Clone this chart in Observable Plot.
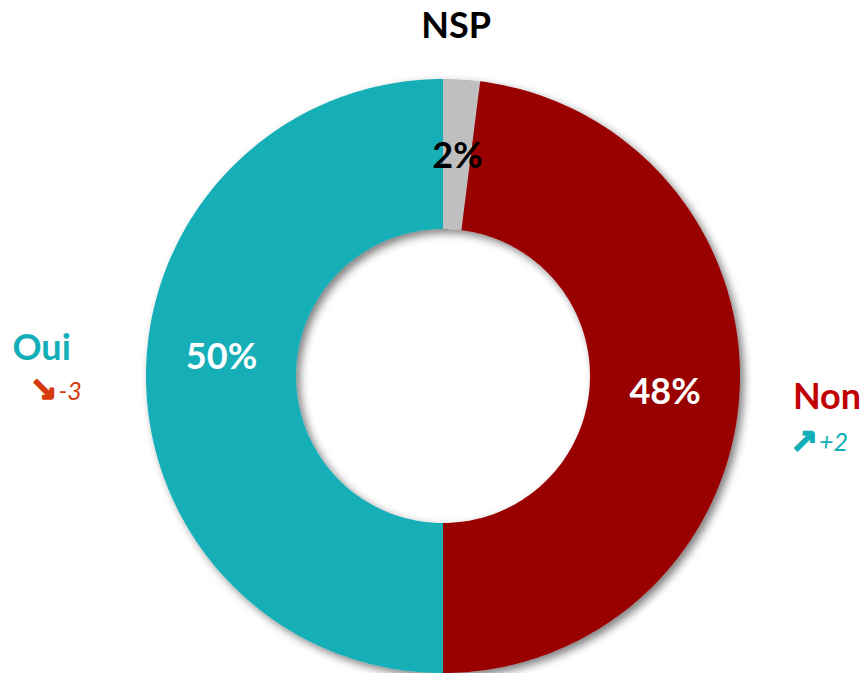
<!DOCTYPE html>
<html>
<head>
<meta charset="utf-8">
<script src="https://cdn.jsdelivr.net/npm/d3@7"></script>
<script src="https://cdn.jsdelivr.net/npm/@observablehq/plot@0.6"></script>
<style>
  html, body { margin: 0; padding: 0; background: #fff; }
  #chart { width: 868px; height: 673px; }
</style>
</head>
<body>
<div id="chart"></div>
<script>
// ---- data ----
const categories = ["NSP", "Non", "Oui"];
const values = [2, 48, 50];
const sliceColors = ["#BFBFBF", "#990000", "#13AFB8"];
const pctLabels = ["2%", "48%", "50%"];
const pctColors = ["#000000", "#FFFFFF", "#FFFFFF"];
const nameColors = ["#000000", "#C00000", "#13AFB8"];
const changeArrows = ["", "\u2197", "\u2198"];
const changeValues = ["", "+2", "-3"];
const changeColors = ["", "#13AFB8", "#D63B0E"];

// ---- geometry from data ----
const R = 1, r = 0.495, rMid = (R + r) / 2;
const rows = categories.map((c, i) => ({
  cat: c, value: values[i], pct: pctLabels[i], pctColor: pctColors[i],
  nameColor: nameColors[i], arrow: changeArrows[i], change: changeValues[i], changeColor: changeColors[i]
}));
const arcs = d3.pie().sort(null).value(d => d.value)(rows);
const ring = [];
arcs.forEach(a => {
  const n = 160;
  for (let k = 0; k <= n; k++) {
    const t = a.startAngle + (a.endAngle - a.startAngle) * k / n;
    ring.push({cat: a.data.cat, x1: R * Math.sin(t), y1: R * Math.cos(t), x2: r * Math.sin(t), y2: r * Math.cos(t)});
  }
});
const mids = arcs.map(a => {
  const m = (a.startAngle + a.endAngle) / 2;
  return {...a.data, mx: rMid * Math.sin(m), my: rMid * Math.cos(m), ox: R * Math.sin(m), oy: R * Math.cos(m)};
});
const pick = c => mids.filter(d => d.cat === c);

const font = "Lato, 'Open Sans', sans-serif";

const chart = Plot.plot({
  width: 868,
  height: 673,
  marginLeft: 146,
  marginRight: 128,
  marginTop: 79,
  marginBottom: 0,
  x: {domain: [-1, 1], axis: null},
  y: {domain: [-1, 1], axis: null},
  color: {domain: categories, range: sliceColors},
  style: {background: "#fff", fontFamily: font, overflow: "visible"},
  marks: [
    Plot.area(ring, {x1: "x1", y1: "y1", x2: "x2", y2: "y2", z: "cat", fill: "cat"}),
    // percentage labels
    Plot.text(mids.filter(d => d.cat !== "Oui"), {x: "mx", y: "my", text: "pct", fill: "pctColor", fontSize: 36, fontWeight: "bold", dy: 2}),
    Plot.text(pick("Oui"), {x: "mx", y: "my", text: "pct", fill: "pctColor", fontSize: 36, fontWeight: "bold", dy: -19}),
    // category names
    Plot.text(pick("NSP"), {x: "ox", y: "oy", text: "cat", fill: "nameColor", fontSize: 36, fontWeight: "bold", dx: -6, dy: -54}),
    Plot.text(pick("Oui"), {x: "ox", y: "oy", text: "cat", fill: "nameColor", fontSize: 36, fontWeight: "bold", textAnchor: "start", dx: -134, dy: -28}),
    Plot.text(pick("Non"), {x: "ox", y: "oy", text: "cat", fill: "nameColor", fontSize: 36, fontWeight: "bold", textAnchor: "start", dx: 53, dy: 2}),
    // change arrows + values
    Plot.text(pick("Oui"), {x: "ox", y: "oy", text: "arrow", fill: "changeColor", stroke: "changeColor", strokeWidth: 1.6, fontSize: 33, fontWeight: "bold", fontFamily: "DejaVu Sans", textAnchor: "start", dx: -117, dy: 14}),
    Plot.text(pick("Oui"), {x: "ox", y: "oy", text: "change", fill: "changeColor", fontSize: 25, fontStyle: "italic", textAnchor: "start", dx: -88, dy: 15}),
    Plot.text(pick("Non"), {x: "ox", y: "oy", text: "arrow", fill: "changeColor", stroke: "changeColor", strokeWidth: 1.6, fontSize: 33, fontWeight: "bold", fontFamily: "DejaVu Sans", textAnchor: "start", dx: 50, dy: 47}),
    Plot.text(pick("Non"), {x: "ox", y: "oy", text: "change", fill: "changeColor", fontSize: 25, fontStyle: "italic", textAnchor: "start", dx: 79, dy: 48})
  ]
});

// drop shadow on the ring
const ns = "http://www.w3.org/2000/svg";
const defs = document.createElementNS(ns, "defs");
defs.innerHTML = '<filter id="ringShadow" x="-20%" y="-20%" width="140%" height="140%"><feDropShadow dx="4" dy="4" stdDeviation="4" flood-color="#000" flood-opacity="0.5"/></filter>';
chart.insertBefore(defs, chart.firstChild);
const areaG = chart.querySelector('g[aria-label="area"]');
if (areaG) areaG.setAttribute("filter", "url(#ringShadow)");

document.getElementById("chart").appendChild(chart);
</script>
</body>
</html>
